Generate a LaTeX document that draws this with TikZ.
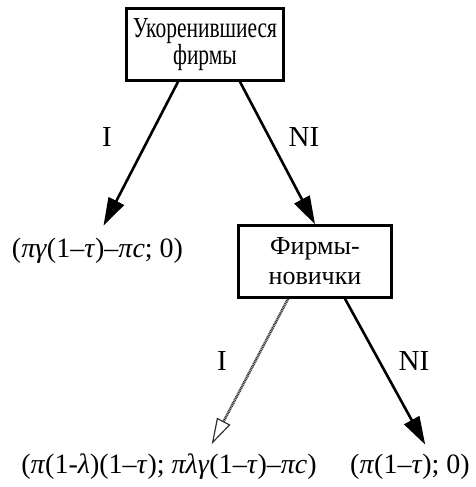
\documentclass[tikz,border=0pt]{standalone}
\usepackage{fontspec}
\setmainfont{Liberation Serif}
\newfontfamily\narrowfont[FakeStretch=0.74]{Liberation Serif}
\usetikzlibrary{positioning,arrows.meta}

\tikzset{
    firmbox/.style={draw, rectangle, line width=2.6pt, align=center, inner sep=2pt},
    branch/.style={-{Triangle[length=28pt,width=17pt]}, line width=2.6pt},
    hatched/.style={-{Triangle[open,length=26pt,width=15pt,line width=1.2pt]}, line width=2.6pt, draw=black!80, dash pattern=on 1pt off 0.7pt},
    payoff/.style={anchor=base, inner sep=0pt, font=\fontsize{28}{32}\selectfont},
    movelabel/.style={font=\fontsize{29}{32}\selectfont}
}

\begin{document}
\begin{tikzpicture}[x=1pt, y=-1pt]
    \useasboundingbox (0,0) rectangle (476,487);

    % players
    \node[firmbox, minimum width=157pt, minimum height=72pt, font=\narrowfont\fontsize{29}{27}\selectfont] (incumbent) at (205,44.5)
        {Укоренившиеся\\фирмы};
    \node[firmbox, minimum width=153pt, minimum height=72pt, font=\fontsize{26}{30}\selectfont] (newcomer) at (315,261.5)
        {Фирмы-\\новички};

    % payoffs
    \node[payoff] (payI) at (97.5,257) {(\textit{πγ}(1–\textit{τ})–\textit{πc}; 0)};
    \node[payoff] (payNII) at (169,473) {(\textit{π}(1-\textit{λ})(1–\textit{τ}); \textit{πλγ}(1–\textit{τ})–\textit{πc})};
    \node[payoff] (payNINI) at (410,473) {(\textit{π}(1–\textit{τ}); 0)};

    % moves
    \draw[branch, shorten >=13pt] ([xshift=-27pt]incumbent.south) -- (payI.north);
    \draw[branch] ([xshift=35pt]incumbent.south) -- (newcomer.north);
    \draw[hatched, shorten >=10pt] ([xshift=-27pt]newcomer.south) -- ([xshift=38pt]payNII.north);
    \draw[branch, shorten >=10pt] ([xshift=30pt]newcomer.south) -- ([xshift=20pt]payNINI.north);

    \node[movelabel] (lblI) at (107,137) {I};
    \node[movelabel] (lblNI) at (304,137) {NI};
    \node[movelabel] (lblNewI) at (222,361) {I};
    \node[movelabel] (lblNewNI) at (414,361) {NI};
\end{tikzpicture}
\end{document}
